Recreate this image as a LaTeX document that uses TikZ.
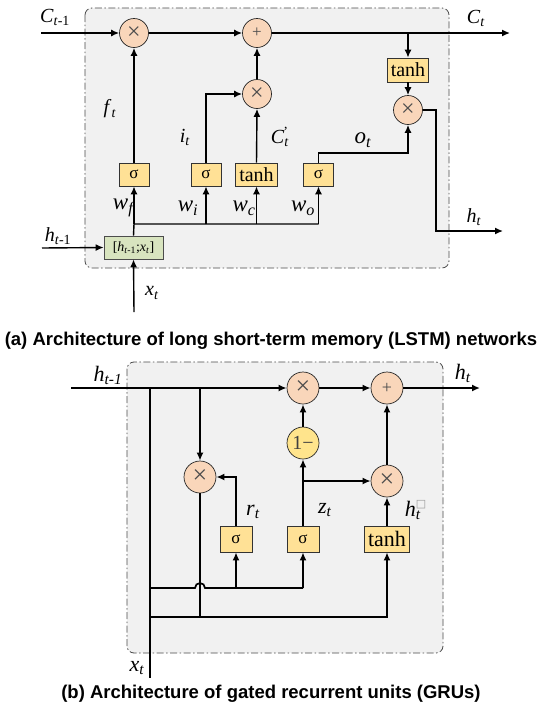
\documentclass[tikz,border=0pt]{standalone}
\usepackage{fontspec}
\setmainfont{Liberation Serif}
\newfontfamily\capfont{Liberation Sans}
\newfontfamily\symfont{DejaVu Sans}
\usetikzlibrary{arrows.meta}

\definecolor{panelbg}{HTML}{F1F1F1}
\definecolor{panelln}{HTML}{4A4A4A}
\definecolor{opfill}{HTML}{F9D6BA}
\definecolor{gatefill}{HTML}{FFE196}
\definecolor{onefill}{HTML}{FFE48C}
\definecolor{catfill}{HTML}{D8E4BF}

% italic symbol with italic subscript
\newcommand\sym[2]{\textit{#1}\textsubscript{\textit{#2}}}

\begin{document}
\begin{tikzpicture}[x=1pt,y=-1pt,
  panel/.style={draw=panelln, fill=panelbg, line width=0.8pt,
    dash pattern=on 7pt off 2.5pt on 1.5pt off 2.5pt, rounded corners=7pt},
  op/.style={circle, draw=black!85, fill=opfill, line width=0.7pt,
    minimum size=29pt, inner sep=0pt,
    font=\fontsize{24}{24}\selectfont\color{black!70}},
  plus/.style={op, font=\fontsize{17}{17}\selectfont\color{black!70}},
  opg/.style={op, minimum size=32pt, font=\fontsize{26}{26}\selectfont\color{black!70}},
  gatebox/.style={draw=black!80, fill=gatefill, line width=0.7pt,
    minimum height=23pt, inner sep=0pt},
  sig/.style={gatebox, minimum width=30pt, font=\fontsize{17}{17}\selectfont},
  tnh/.style={gatebox, minimum width=42pt, font=\fontsize{20}{20}\selectfont},
  wire/.style={line width=1.4pt},
  arr/.style={wire, -{Latex[length=8pt,width=7pt]}},
  lbl/.style={inner sep=0pt, font=\fontsize{20}{20}\selectfont},
  wlbl/.style={inner sep=0pt, font=\fontsize{23}{23}\selectfont},
  glbl/.style={inner sep=0pt, font=\fontsize{22}{22}\selectfont},
  caption/.style={inner sep=0pt, font=\capfont\bfseries\fontsize{18.5}{18.5}\selectfont},
]
\useasboundingbox[fill=white] (0,0) rectangle (543,710);

% ---------------- LSTM cell ----------------
\draw[panel] (85,8) rectangle (449,268);

\node[op]   (mulF) at (134,33)  {×};
\node[plus] (addC) at (257,33)  {+};
\node[op]   (mulI) at (257,94)  {×};
\node[tnh, minimum width=41pt, minimum height=24pt] (tanhC) at (408,70) {tanh};
\node[op]   (mulO) at (408,110) {×};

\node[sig] (sf) at (134,174.5) {σ};
\node[sig] (si) at (206,174.5) {σ};
\node[tnh] (sc) at (256.5,174.5) {tanh};
\node[sig] (so) at (318.5,174.5) {σ};

\node[draw=black!70, fill=catfill, line width=0.7pt, minimum width=59pt,
      minimum height=23pt, inner sep=0pt, font=\fontsize{14}{14}\selectfont]
      (cat) at (133.5,247.5) {[\textit{h}\textsubscript{\textit{t}-1};\textit{x}\textsubscript{\textit{t}}]};

\coordinate (cin)  at (41,33);
\coordinate (cout) at (510,33);
\coordinate (hin)  at (42,248);
\coordinate (xin)  at (134,312);
\coordinate (hout) at (503,231);
\coordinate (hturn) at (436,231);
\coordinate (bus)  at (134,224);
\coordinate (busR) at (318.5,224);
\coordinate (oturn) at (318.5,153);

% cell state path
\draw[arr] (cin) -- (mulF);
\draw[arr] (mulF) -- (addC);
\draw[arr] (addC) -- (cout);
\draw[arr] (tanhC.north |- cout) -- (tanhC.north);
\draw[arr] (tanhC) -- (mulO);
\draw[arr] (mulO.east) -| (hturn) -- (hout);

% gates
\draw[arr] (sf.north) -- (mulF.south);
\draw[arr] (si.north) |- (mulI.west);
\draw[arr] (sc.north) -- (mulI.south);
\draw[arr] (mulI) -- (addC);
\draw[arr] (so.north) -- (oturn) -| (mulO.south);

% inputs
\draw[wire] (cat.north) -- (bus) -- (busR);
\draw[arr] (bus) -- (sf.south);
\draw[arr] (bus -| si.south) -- (si.south);
\draw[arr] (bus -| sc.south) -- (sc.south);
\draw[arr] (busR) -- (so.south);
\draw[arr] (hin) -- (cat.west);
\draw[arr] (xin) -- (cat.south);

% labels
\node[lbl] (lc0) at (55,17)  {\textit{C}\textsubscript{\textit{t}-1}};
\node[lbl] (lc1) at (476,18) {\sym{C}{t}};
\node[lbl] (lf)  at (110,109) {\sym{f}{t}};
\node[lbl] (li)  at (185,137) {\sym{i}{t}};
\node[lbl] (lcc) at (280,137) {\textit{C}\rlap{\textsuperscript{\kern-1pt'}}\textsubscript{\textit{t}}};
\node[wlbl] (lo) at (363,140) {\sym{o}{t}};
\node[lbl] (lh)  at (474,217) {\sym{h}{t}};
\node[lbl] (lh0) at (58,236)  {\textit{h}\textsubscript{\textit{t}-1}};
\node[lbl] (lx)  at (152,293) {\sym{x}{t}};
\node[wlbl] (lwf) at (124,208) {\sym{w}{f}};
\node[wlbl] (lwi) at (188,208) {\sym{w}{i}};
\node[wlbl] (lwc) at (244,208) {\sym{w}{c}};
\node[wlbl] (lwo) at (303,208) {\sym{w}{o}};

\node[caption] (capa) at (271,341) {(a) Architecture of long short-term memory (LSTM) networks};

% ---------------- GRU cell ----------------
\draw[panel] (127,362) rectangle (443,653);

\node[opg] (m1)  at (303,388) {×};
\node[opg, font=\fontsize{18}{18}\selectfont\color{black!70}] (add) at (387,388) {+};
\node[opg, fill=onefill, font=\fontsize{20}{20}\selectfont\color{black!75}] (om) at (303,443) {1−};
\node[opg] (m2)  at (200,477) {×};
\node[opg] (m3)  at (387,481) {×};

\node[sig, minimum width=32pt, minimum height=26pt] (sr) at (236,539) {σ};
\node[sig, minimum width=32pt, minimum height=26pt] (sz) at (303,539) {σ};
\node[tnh, minimum width=45pt, minimum height=26pt, font=\fontsize{22}{22}\selectfont] (th) at (387,539) {tanh};

\coordinate (gin)   at (71,388);
\coordinate (gout)  at (480,388);
\coordinate (gx)    at (150,678);
\coordinate (gtop)  at (150,388);
\coordinate (gsplit) at (200,388);
\coordinate (gbusA) at (150,588);
\coordinate (gbusB) at (150,617);
\coordinate (gm2low) at (200,617);
\coordinate (gzturn) at (303,481);

\begin{scope}[line width=1.7pt]
\draw[arr, line width=1.7pt] (gin) -- (m1);
\draw[arr, line width=1.7pt] (m1) -- (add);
\draw[arr, line width=1.7pt] (add) -- (gout);
\draw (gtop) -- (gx);
\draw[arr, line width=1.7pt] (gsplit) -- (m2.north);
\draw (m2.south) -- (gm2low);
% gate input bus, hopping over the vertical wire
\draw (gbusA) -- (195,588) arc[start angle=180, end angle=0, radius=5pt] -- (sz.south |- gbusA);
\draw[arr, line width=1.7pt] (sz.south |- gbusA) -- (sz.south);
\draw[arr, line width=1.7pt] (sr.south |- gbusA) -- (sr.south);
\draw[arr, line width=1.7pt] (gbusB) -| (th.south);
\draw[arr, line width=1.7pt] (sr.north) |- (m2.east);
\draw[arr, line width=1.7pt] (sz.north) -- (om.south);
\draw[arr, line width=1.7pt] (om) -- (m1);
\draw[arr, line width=1.7pt] (gzturn) -- (m3.west);
\draw[arr, line width=1.7pt] (th.north) -- (m3.south);
\draw[arr, line width=1.7pt] (m3) -- (add);
\end{scope}

\node[glbl] (gl0) at (108,375) {\textit{h}\textsubscript{\textit{t-1}}};
\node[glbl] (gl1) at (463,373) {\sym{h}{t}};
\node[glbl] (glr) at (253,512) {\sym{r}{t}};
\node[glbl] (glz) at (325,510) {\sym{z}{t}};
\node[glbl] (glh) at (413,510) {\textit{h}\rlap{\raisebox{0.4em}{\fontsize{11}{11}\selectfont\color{black!40}\symfont □}}\textsubscript{\textit{t}}};
\node[glbl] (glx) at (137,668) {\sym{x}{t}};

\node[caption] (capb) at (271,694) {(b) Architecture of gated recurrent units (GRUs)};
\end{tikzpicture}
\end{document}
